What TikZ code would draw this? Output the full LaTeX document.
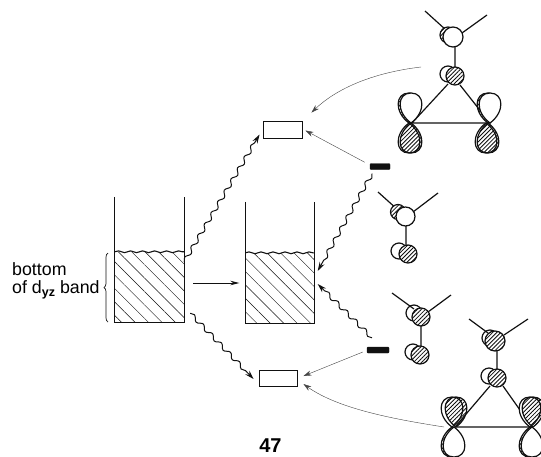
\documentclass[tikz,border=0pt]{standalone}
\usepackage{fontspec}
\setmainfont{Liberation Sans}
\usepackage{xcolor}
\definecolor{cInk}{HTML}{111111}
\definecolor{cThin}{HTML}{444444}
\usepackage{tikz}
\usetikzlibrary{positioning,arrows.meta,patterns.meta,%
  decorations.pathmorphing,decorations.pathreplacing}
\tikzset{
  band-box/.style={minimum width=69pt,minimum height=70pt,inner sep=0pt,
    pattern={Lines[angle=-45,distance=9.5pt,line width=.45pt]},pattern color=cInk},
  band-line/.style={draw=cInk,line width=.7pt},
  band-top/.style={draw=cInk,line width=1.1pt,decorate,
    decoration={snake,amplitude=.9pt,segment length=12pt}},
  level-box/.style={draw=cInk,line width=.9pt,fill=white,inner sep=0pt},
  level-full/.style={draw=cInk,fill=cInk,rounded corners=1pt,inner sep=0pt,
    minimum width=20pt,minimum height=6pt},
  arrow-wave/.style={-{Stealth[length=9pt,width=5.5pt]},draw=cInk,line width=1pt,decorate,
    decoration={snake,amplitude=2pt,segment length=13pt,post length=9pt}},
  arrow-thin/.style={-{Stealth[length=8pt,width=5pt]},draw=cThin,line width=.4pt},
  arrow-plain/.style={-{Stealth[length=9pt,width=4.5pt]},draw=cInk,line width=.9pt},
  bond/.style={draw=cInk,line width=1.2pt},
  orb-white/.style={draw=cInk,line width=1.2pt,fill=white},
  orb-hatch/.style={draw=cInk,line width=1.2pt,preaction={fill=white},
    pattern={Lines[angle=45,distance=2.9pt,line width=.85pt]},pattern color=cInk},
  lobe/.pic={\path[pic actions] (0,0) .. controls (-15,-11) and (-14,-30) .. (0,-30)
    .. controls (14,-30) and (15,-11) .. (0,0);},
  txt-label/.style={font=\fontsize{17.8}{17.8}\selectfont,inner sep=0pt},
}
\begin{document}
\begin{tikzpicture}[x=1pt,y=-1pt]
  \clip (0,0) rectangle (541,456);
  % bands
  \node[band-box] (lband) at (149.5,287) {};
  \node[band-box] (cband) at (280,288) {};
  \draw[band-line] ([yshift=55pt]lband.north west) -- (lband.south west)
    -- (lband.south east) -- ([yshift=55pt]lband.north east);
  \draw[band-line] ([yshift=51pt]cband.north west) -- (cband.south west)
    -- (cband.south east) -- ([yshift=51pt]cband.north east);
  \draw[band-top] (lband.north west) -- (lband.north east);
  \draw[band-top] (cband.north west) -- (cband.north east);
  % levels
  \node[level-box,minimum width=39pt,minimum height=17pt] (toprect) at (282.5,129.5) {};
  \node[level-box,minimum width=38pt,minimum height=16pt] (botrect) at (278,378) {};
  \node[level-full] (topbar) at (380,166.5) {};
  \node[level-full,minimum width=22pt] (botbar) at (378,350) {};
  % ends of the curved arrows
  \coordinate (topmol) at (421,67);
  \coordinate (botmol) at (444,427);
  % arrows
  \draw[arrow-wave] ([yshift=-10pt]lband.north east) -- ([yshift=-5pt,xshift=-3pt]toprect.west);
  \draw[arrow-wave] ([xshift=-8pt,yshift=-4pt]topbar.south) -- ([xshift=3pt,yshift=17pt]cband.east);
  \draw[arrow-wave] ([xshift=-6pt,yshift=9pt]botbar.north) -- ([xshift=3pt,yshift=4pt]cband.east);
  \draw[arrow-wave] ([xshift=6pt,yshift=9pt]lband.south east) -- ([xshift=-5pt,yshift=-1pt]botrect.west);
  \draw[arrow-plain] ([xshift=9pt,yshift=4pt]lband.east) -- ([xshift=-6pt,yshift=5pt]cband.west);
  \draw[arrow-thin] ([xshift=-5pt,yshift=1pt]topbar.north west) -- ([xshift=3pt,yshift=-1pt]toprect.east);
  \draw[arrow-thin] ([xshift=-4pt,yshift=-2pt]botbar.west) -- ([xshift=6pt,yshift=2pt]botrect.east);
  \draw[arrow-thin] (topmol) .. controls (370,73) and (335,90) .. ([xshift=9pt,yshift=8pt]toprect.north east);
  \draw[arrow-thin] (botmol) .. controls (400,420) and (340,410) .. ([xshift=6pt,yshift=-6pt]botrect.east);
  % labels
  \draw[draw=cInk,line width=.7pt,decorate,decoration={brace,amplitude=4pt}]
    (108,322) -- (108,253);
  \node[txt-label,anchor=base west] (lblbot) at (12,275) {bottom};
  \node[txt-label,anchor=base west] (lbldyz) at (12,293)
    {of d\raisebox{-3pt}{\fontsize{12.5}{12.5}\selectfont\bfseries yz} band};
  \node[font=\fontsize{20}{20}\selectfont\bfseries,inner sep=0pt,anchor=base] (lblnum) at (270.5,452) {47};
  % top fragment with ring
  \draw[bond] (425,11) -- (446,30) (487,15) -- (462,33) (455,45) -- (455,68);
  \draw[orb-hatch] (448,35) circle (8pt);
  \draw[orb-white] (453,37) circle (10pt);
  \draw[orb-white] (448,74) circle (8pt);
  \draw[orb-hatch] (455,76) circle (9pt);
  \draw[bond] (448,84) -- (412,123) -- (490,123) -- (460,85);
  \pic[orb-hatch] at (409,123) {lobe};
  \pic[orb-white] at (411,123) {lobe};
  \pic[orb-white,yscale=-1] at (409,123) {lobe};
  \pic[orb-hatch,yscale=-1] at (411,123) {lobe};
  \pic[orb-hatch] at (488,123) {lobe};
  \pic[orb-white] at (490,123) {lobe};
  \pic[orb-white,yscale=-1] at (486,123) {lobe};
  \pic[orb-hatch,yscale=-1] at (488,123) {lobe};
  % upper fragment
  \draw[bond] (378,192) -- (398,210) (438,193) -- (413,212) (406,225) -- (406,246);
  \draw[orb-hatch] (398,212) circle (7.5pt);
  \draw[orb-white] (405.5,216.5) circle (9.5pt);
  \draw[orb-white] (399,251) circle (8pt);
  \draw[orb-hatch] (408,254) circle (9pt);
  % lower fragment
  \draw[orb-white] (414,313) circle (8pt);
  \draw[orb-hatch] (421,317) circle (9pt);
  \draw[bond] (392,293) -- (414,309) (451,295) -- (428,312) (421,326) -- (421,346);
  \draw[orb-white] (413,352) circle (8pt);
  \draw[orb-hatch] (420,355) circle (9pt);
  % bottom fragment with ring
  \draw[orb-white] (490,338) circle (8pt);
  \draw[orb-hatch] (495,341) circle (10pt);
  \draw[bond] (469,319) -- (488,333) (528,319) -- (504,335) (497,351) -- (497,369);
  \draw[orb-white] (489,376) circle (8pt);
  \draw[orb-hatch] (497,378) circle (9pt);
  \draw[bond] (490,386) -- (455,427) -- (532,427) -- (503,386);
  \pic[orb-white] at (452,427) {lobe};
  \pic[orb-hatch] at (456,427) {lobe};
  \pic[orb-hatch,yscale=-1] at (452,427) {lobe};
  \pic[orb-white,yscale=-1] at (454,427) {lobe};
  \pic[orb-white] at (530,427) {lobe};
  \pic[orb-hatch] at (533,427) {lobe};
  \pic[orb-hatch,yscale=-1] at (530,427) {lobe};
  \pic[orb-white,yscale=-1] at (532,427) {lobe};
\end{tikzpicture}
\end{document}
